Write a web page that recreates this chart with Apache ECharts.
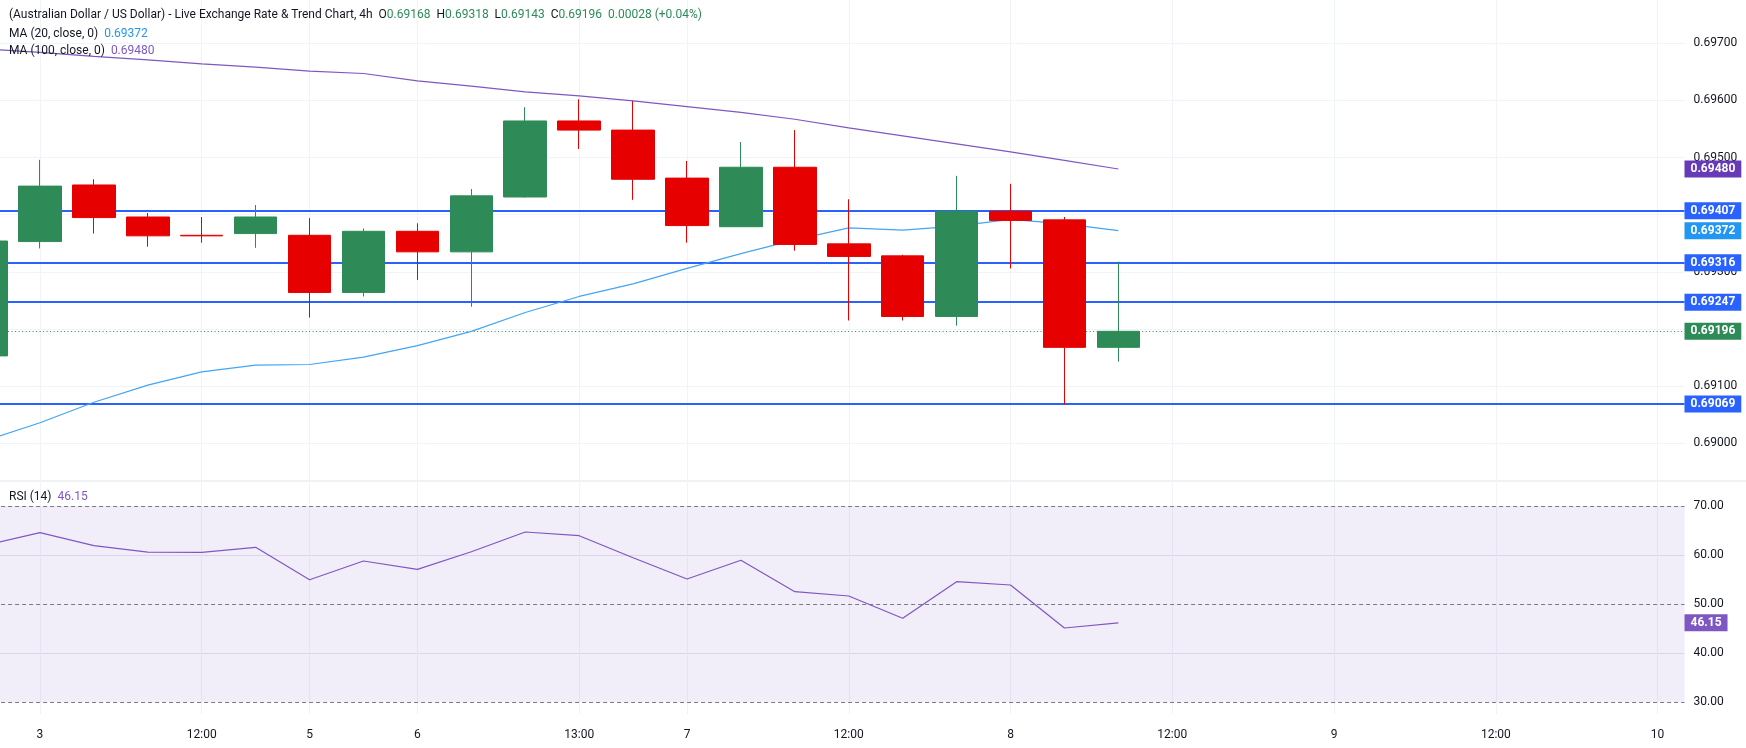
<!DOCTYPE html>
<html>
<head>
    <meta charset="utf-8">
    <title>AUD/USD 4h</title>
    <style type="text/css">
        html,
        body {
            margin: 0;
            padding: 0;
            background: #fff;
        }

        #main {
            width: 1746px;
            height: 748px;
        }
    </style>
</head>

<body>
<div id="main"></div>
<script type="text/javascript" src="https://cdn.jsdelivr.net/npm/echarts@6.0.0/dist/echarts.min.js"></script>
<script type="text/javascript">
    // one slot per 4h bar; slot 0 is the bar cut off at the left edge
    var xLabels = ['', '3', '', '', '12:00', '', '5', '', '6', '', '', '13:00', '', '7', '', '',
        '12:00', '', '', '8', '', '', '12:00', '', '', '9', '', '', '12:00', '', '', '10'];

    // [open, close, low, high]
    var candles = [
        [0.69153, 0.69354, 0.69150, 0.69360],
        [0.69353, 0.69450, 0.69341, 0.69496],
        [0.69452, 0.69395, 0.69367, 0.69462],
        [0.69396, 0.69363, 0.69344, 0.69403],
        [0.69364, 0.69363, 0.69351, 0.69396],
        [0.69367, 0.69396, 0.69342, 0.69417],
        [0.69364, 0.69264, 0.69220, 0.69394],
        [0.69264, 0.69371, 0.69257, 0.69376],
        [0.69371, 0.69335, 0.69286, 0.69385],
        [0.69335, 0.69433, 0.69239, 0.69445],
        [0.69431, 0.69564, 0.69430, 0.69588],
        [0.69564, 0.69548, 0.69515, 0.69602],
        [0.69548, 0.69462, 0.69426, 0.69599],
        [0.69464, 0.69381, 0.69351, 0.69494],
        [0.69379, 0.69483, 0.69379, 0.69527],
        [0.69483, 0.69348, 0.69337, 0.69548],
        [0.69349, 0.69327, 0.69215, 0.69427],
        [0.69328, 0.69222, 0.69215, 0.69330],
        [0.69222, 0.69406, 0.69206, 0.69468],
        [0.69406, 0.69390, 0.69306, 0.69454],
        [0.69391, 0.69168, 0.69068, 0.69396],
        [0.69168, 0.69196, 0.69143, 0.69318]
    ];

    var ma20 = [0.69005, 0.69036, 0.69072, 0.69102, 0.69125, 0.69137, 0.69138, 0.69151, 0.69171, 0.69196, 0.69229,
        0.69257, 0.69279, 0.69306, 0.69332, 0.69356, 0.69377, 0.69373, 0.69380, 0.69392, 0.69384, 0.69372];

    var ma100 = [0.69690, 0.69684, 0.69677, 0.69671, 0.69664, 0.69658, 0.69651, 0.69647, 0.69634, 0.69625, 0.69615,
        0.69608, 0.69599, 0.69589, 0.69579, 0.69567, 0.69552, 0.69538, 0.69524, 0.69510, 0.69495, 0.69480];

    var rsi = [62.0, 64.55, 61.9, 60.6, 60.55, 61.57, 54.96, 58.78, 57.08, 60.67, 64.69,
        63.94, 59.45, 55.1, 58.92, 52.51, 51.63, 47.08, 54.55, 53.88, 45.1, 46.15];

    // drawn horizontal levels
    var levels = [0.69407, 0.69316, 0.69247, 0.69069];
    var rsiLevels = [70, 50, 30];

    var FONT = 'Roboto, "Noto Sans", sans-serif';
    var UP = '#2e8b57', DOWN = '#e60000', TXT = '#131722', GRIDC = '#f0f3fa';

    var cats = xLabels.map(function (_, i) { return String(i); });
    var last = candles[candles.length - 1];
    var prevClose = candles[candles.length - 2][1];
    var chg = last[1] - prevClose;
    var pct = chg / prevClose * 100;

    function boxLabel(bg, digits) {
        return {
            show: true,
            position: 'end',
            distance: 0,
            formatter: function (p) { return Number(p.value).toFixed(digits); },
            backgroundColor: bg,
            color: '#fff',
            fontFamily: FONT,
            fontSize: 12,
            fontWeight: 'bold',
            lineHeight: 13,
            padding: [2, 6, 2, 6]
        };
    }

    var hiddenLine = {color: 'rgba(0,0,0,0)', width: 1};

    // the blue levels, the last-price line and the MA value tags all hang on the MA100 series
    var priceLines = levels.map(function (v) {
        return {yAxis: v, lineStyle: {color: '#2962ff', width: 2, type: 'solid'}, label: boxLabel('#2962ff', 5)};
    });
    priceLines.push({yAxis: last[1], lineStyle: {color: UP, width: 1, type: [1, 2.5]}, label: boxLabel(UP, 5)});
    priceLines.push({yAxis: ma100[ma100.length - 1], lineStyle: hiddenLine, label: boxLabel('#673ab7', 5)});
    priceLines.push({yAxis: ma20[ma20.length - 1], lineStyle: hiddenLine, label: boxLabel('#2196f3', 5)});

    var mainColors = ['rgba(0,0,0,0)'];
    for (var i = 0; i < 9; i++) mainColors.push(GRIDC);

    var myChart = echarts.init(document.getElementById('main'), null, {renderer: 'canvas'});
    var option = {
        backgroundColor: '#ffffff',
        animation: false,
        textStyle: {fontFamily: FONT},
        title: [
            {
                left: 9, top: 8, padding: 0,
                text: '(Australian Dollar / US Dollar) - Live Exchange Rate & Trend Chart, 4h  ' +
                    'O{g|' + last[0].toFixed(5) + '}  H{g|' + last[3].toFixed(5) + '}  L{g|' +
                    last[2].toFixed(5) + '}  C{g|' + last[1].toFixed(5) + '}  {g|' + chg.toFixed(5) +
                    ' (' + (pct >= 0 ? '+' : '') + pct.toFixed(2) + '%)}',
                textStyle: {
                    fontFamily: FONT, fontSize: 12, fontWeight: 'normal', color: TXT, lineHeight: 14,
                    rich: {g: {color: UP, fontFamily: FONT, fontSize: 12, lineHeight: 14}}
                }
            },
            {
                left: 9, top: 27, padding: 0,
                text: 'MA (20, close, 0)  {b|' + ma20[ma20.length - 1].toFixed(5) + '}',
                textStyle: {
                    fontFamily: FONT, fontSize: 12, fontWeight: 'normal', color: TXT, lineHeight: 14,
                    rich: {b: {color: '#2196f3', fontFamily: FONT, fontSize: 12, lineHeight: 14}}
                }
            },
            {
                left: 9, top: 44, padding: 0,
                text: 'MA (100, close, 0)  {p|' + ma100[ma100.length - 1].toFixed(5) + '}',
                textStyle: {
                    fontFamily: FONT, fontSize: 12, fontWeight: 'normal', color: TXT, lineHeight: 14,
                    rich: {p: {color: '#7e57c2', fontFamily: FONT, fontSize: 12, lineHeight: 14}}
                }
            },
            {
                left: 9, top: 490, padding: 0,
                text: 'RSI (14)  {p|' + rsi[rsi.length - 1].toFixed(2) + '}',
                textStyle: {
                    fontFamily: FONT, fontSize: 12, fontWeight: 'normal', color: TXT, lineHeight: 14,
                    rich: {p: {color: '#7e57c2', fontFamily: FONT, fontSize: 12, lineHeight: 14}}
                }
            }
        ],
        graphic: [
            {type: 'line', shape: {x1: 0, y1: 481, x2: 1746, y2: 481}, style: {stroke: '#e0e3eb', lineWidth: 1}, z: 0}
        ],
        grid: [
            {left: -40.9, right: 61.5, top: -13.96, height: 514.5, outerBoundsMode: 'none', containLabel: false},
            {left: -40.9, right: 61.5, top: 506, height: 196, outerBoundsMode: 'none', containLabel: false},
            {left: -13.94, right: 88.4, top: 0, height: 714, outerBoundsMode: 'none', containLabel: false}
        ],
        xAxis: [
            {gridIndex: 0, type: 'category', data: cats, boundaryGap: true, show: false},
            {gridIndex: 1, type: 'category', data: cats, boundaryGap: true, show: false},
            {
                gridIndex: 2, type: 'category', data: cats, boundaryGap: false,
                axisLine: {show: false},
                axisTick: {show: false},
                axisLabel: {
                    margin: 15, color: TXT, fontSize: 12, fontFamily: FONT,
                    interval: function (idx) { return xLabels[idx] !== ''; },
                    formatter: function (v, idx) { return xLabels[idx]; }
                },
                splitLine: {
                    show: true,
                    interval: function (idx) { return xLabels[idx] !== ''; },
                    lineStyle: {color: GRIDC, width: 1}
                }
            }
        ],
        yAxis: [
            {
                gridIndex: 0, type: 'value', position: 'right',
                min: 0.689, max: 0.698, interval: 0.001,
                axisLine: {show: false},
                axisTick: {show: false},
                axisLabel: {
                    margin: 9, color: TXT, fontSize: 12, fontFamily: FONT,
                    formatter: function (v) { return (v < 0.6895 || v > 0.6975) ? '' : v.toFixed(5); }
                },
                splitLine: {show: true, lineStyle: {color: mainColors, width: 1}}
            },
            {
                gridIndex: 1, type: 'value', position: 'right',
                min: 30, max: 70, interval: 10,
                axisLine: {show: false},
                axisTick: {show: false},
                axisLabel: {
                    margin: 9, color: TXT, fontSize: 12, fontFamily: FONT,
                    formatter: function (v) { return v.toFixed(2); }
                },
                splitLine: {
                    show: true,
                    lineStyle: {color: ['rgba(0,0,0,0)', '#e6e2f2', 'rgba(0,0,0,0)', '#e6e2f2', 'rgba(0,0,0,0)'], width: 1}
                }
            },
            {gridIndex: 2, type: 'value', min: 0, max: 1, show: false}
        ],
        series: [
            {
                name: 'MA100',
                type: 'line',
                xAxisIndex: 0, yAxisIndex: 0,
                data: ma100,
                symbol: 'none',
                z: 2,
                lineStyle: {color: '#7e57c2', width: 1.2},
                markLine: {
                    silent: true, symbol: ['none', 'none'], z: 1, animation: false, precision: 6,
                    data: priceLines
                }
            },
            {
                name: 'MA20',
                type: 'line',
                xAxisIndex: 0, yAxisIndex: 0,
                data: ma20,
                symbol: 'none',
                z: 2,
                lineStyle: {color: '#42a5f5', width: 1.2}
            },
            {
                name: 'AUDUSD',
                type: 'candlestick',
                xAxisIndex: 0, yAxisIndex: 0,
                data: candles,
                barWidth: 43,
                z: 3,
                itemStyle: {
                    color: UP, color0: DOWN,
                    borderColor: UP, borderColor0: DOWN,
                    borderWidth: 1
                }
            },
            {
                name: 'RSI',
                type: 'line',
                xAxisIndex: 1, yAxisIndex: 1,
                data: rsi,
                symbol: 'none',
                z: 3,
                lineStyle: {color: '#7e57c2', width: 1.2},
                markArea: {
                    silent: true,
                    itemStyle: {color: 'rgba(126,87,194,0.1)'},
                    data: [[{yAxis: rsiLevels[2]}, {yAxis: rsiLevels[0]}]]
                },
                markLine: {
                    silent: true, symbol: ['none', 'none'], z: 2, animation: false, precision: 4,
                    data: rsiLevels.map(function (v) {
                        return {yAxis: v, lineStyle: {color: '#787b86', width: 1, type: [4, 3]}, label: {show: false}};
                    }).concat([{yAxis: rsi[rsi.length - 1], lineStyle: hiddenLine, label: boxLabel('#7e57c2', 2)}])
                }
            }
        ]
    };
    myChart.setOption(option);
</script>
</body>
</html>
